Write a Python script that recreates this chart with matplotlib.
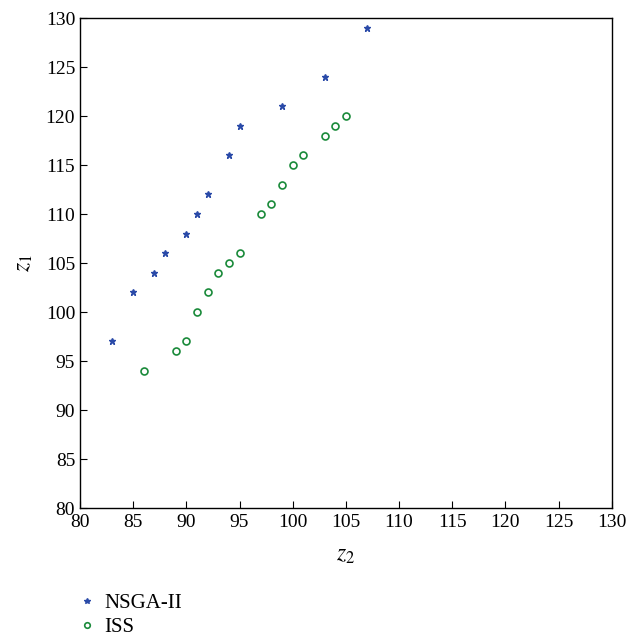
import matplotlib
matplotlib.use("Agg")
import matplotlib.pyplot as plt

# Pareto fronts
nsga_z2 = [83, 85, 87, 88, 90, 91, 92, 94, 95, 99, 103, 107]
nsga_z1 = [97, 102, 104, 106, 108, 110, 112, 116, 119, 121, 124, 129]
iss_z2 = [86, 89, 90, 91, 92, 93, 94, 95, 97, 98, 99, 100, 101, 103, 104, 105]
iss_z1 = [94, 96, 97, 100, 102, 104, 105, 106, 110, 111, 113, 115, 116, 118, 119, 120]
ticks = list(range(80, 131, 5))

plt.rcParams["font.family"] = ["Liberation Serif", "DejaVu Serif"]
plt.rcParams["mathtext.fontset"] = "stix"

fig = plt.figure(figsize=(6.42, 6.44), dpi=100)
ax = fig.add_axes([0.1246, 0.211, 0.8284, 0.761])

ax.plot(nsga_z2, nsga_z1, linestyle="none", marker="*", markersize=5,
        color="#2a4aa8", label="NSGA-II")
ax.plot(iss_z2, iss_z1, linestyle="none", marker="o", markersize=5,
        markerfacecolor="none", markeredgecolor="#1a8a3a", markeredgewidth=1.2,
        label="ISS")

ax.set_xlim(80, 130)
ax.set_ylim(80, 130)
ax.set_xticks(ticks)
ax.set_yticks(ticks)
ax.tick_params(direction="in", labelsize=14, length=5, width=0.8)
ax.tick_params(axis="x", pad=4)
for s in ax.spines.values():
    s.set_linewidth(1.0)
ax.set_xlabel(r"$z_\mathrm{2}$", fontsize=17, labelpad=10)
ax.set_ylabel(r"$z_\mathrm{1}$", fontsize=17, labelpad=8)

fig.legend(loc="lower left", bbox_to_anchor=(0.094, -0.018), frameon=False,
           fontsize=15, handlelength=0.8, handletextpad=0.4, labelspacing=0.2,
           markerscale=0.8)

fig.savefig("out.png", dpi=100)
